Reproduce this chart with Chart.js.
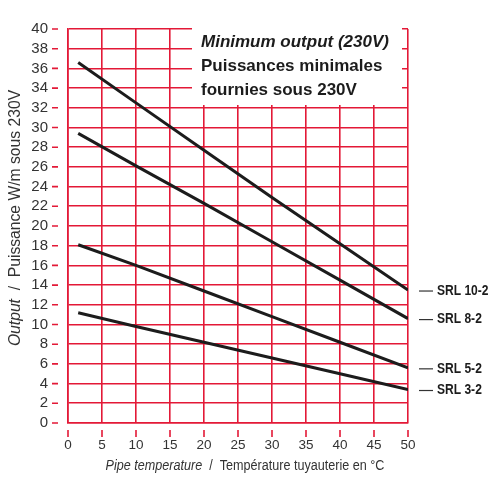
<!DOCTYPE html>
<html>
<head>
<meta charset="utf-8">
<script src="https://cdn.jsdelivr.net/npm/chart.js@4.4.1/dist/chart.umd.min.js"></script>
<style>
  html, body { margin: 0; padding: 0; background: #fff; }
  canvas { display: block; }
</style>
</head>
<body>
<canvas id="chart" width="488" height="477"></canvas>
<script>
// pipe temperature (°C) and minimum output (W/m)
const temps = [1.5, 10, 20, 30, 40, 50];
const srl10 = [36.6, 32.5, 27.7, 22.9, 18.2, 13.5];
const srl8  = [29.4, 26.1, 22.3, 18.4, 14.5, 10.6];
const srl5  = [18.1, 16.0, 13.4, 10.8, 8.2, 5.6];
const srl3  = [11.2, 9.8, 8.2, 6.6, 5.0, 3.4];
const seriesNames = ['SRL 10-2', 'SRL 8-2', 'SRL 5-2', 'SRL 3-2'];

const boxLines = ['Minimum output (230V)', 'Puissances minimales', 'fournies sous 230V'];
const xTitle = ['Pipe temperature', '  /  ', 'Température tuyauterie en °C'];
const yTitle = ['Output', '  /  ', 'Puissance W/m sous 230V'];

const RED = '#e31937';
const INK = '#1c1c1c';
const GREY = '#333';
const SANS = '"Liberation Sans", Arial, sans-serif';

function pts(vals){
  return vals.map((v, i) => ({ x: temps[i], y: v }));
}

// draws a run of text parts centred on (cx, y), squeezed horizontally by sx
function drawParts(ctx, parts, fonts, cx, y, sx){
  const widths = parts.map((p, i) => { ctx.font = fonts[i]; return ctx.measureText(p).width; });
  const total = widths.reduce((a, b) => a + b, 0);
  ctx.save();
  ctx.translate(cx, y);
  ctx.scale(sx, 1);
  let x = -total / 2;
  parts.forEach((p, i) => { ctx.font = fonts[i]; ctx.fillText(p, x, 0); x += widths[i]; });
  ctx.restore();
}

const decor = {
  id: 'decor',
  beforeDatasetsDraw(chart){
    const ctx = chart.ctx;
    ctx.save();
    // white panel over the grid for the heading
    ctx.fillStyle = '#fff';
    ctx.fillRect(192, 24, 210, 81);
    ctx.fillStyle = INK;
    ctx.textBaseline = 'alphabetic';
    ctx.font = 'italic bold 17px ' + SANS;
    ctx.fillText(boxLines[0], 201, 47);
    ctx.font = 'bold 17px ' + SANS;
    ctx.fillText(boxLines[1], 201, 71);
    ctx.fillText(boxLines[2], 201, 95);
    ctx.restore();
  },
  afterDraw(chart){
    const ctx = chart.ctx;
    const xs = chart.scales.x, ys = chart.scales.y;
    ctx.save();
    // detached tick marks
    ctx.strokeStyle = RED;
    ctx.lineWidth = 1.6;
    ctx.beginPath();
    ys.ticks.forEach(t => {
      const y = ys.getPixelForValue(t.value);
      ctx.moveTo(52, y); ctx.lineTo(58, y);
    });
    xs.ticks.forEach(t => {
      const x = xs.getPixelForValue(t.value);
      ctx.moveTo(x, 430); ctx.lineTo(x, 437);
    });
    ctx.stroke();

    // axis titles
    ctx.fillStyle = GREY;
    ctx.textBaseline = 'alphabetic';
    drawParts(ctx, xTitle, ['italic 14px ' + SANS, '14px ' + SANS, '14px ' + SANS], 245, 470, 0.9);
    ctx.save();
    ctx.translate(20, 218);
    ctx.rotate(-Math.PI / 2);
    drawParts(ctx, yTitle, ['italic 16px ' + SANS, '16px ' + SANS, '16px ' + SANS], 0, 0, 0.98);
    ctx.restore();

    // series labels at the right end
    ctx.textBaseline = 'middle';
    chart.data.datasets.forEach(ds => {
      const last = ds.data[ds.data.length - 1];
      const y = ys.getPixelForValue(last.y) + 1;
      ctx.strokeStyle = GREY;
      ctx.lineWidth = 1.2;
      ctx.beginPath(); ctx.moveTo(419, y); ctx.lineTo(433, y); ctx.stroke();
      ctx.save();
      ctx.translate(437, y);
      ctx.scale(0.86, 1);
      ctx.fillStyle = INK;
      ctx.font = 'bold 14px ' + SANS;
      ctx.fillText(ds.label, 0, 0);
      ctx.restore();
    });
    ctx.restore();
  }
};

new Chart(document.getElementById('chart'), {
  type: 'line',
  data: {
    datasets: [srl10, srl8, srl5, srl3].map((vals, i) => ({
      label: seriesNames[i],
      data: pts(vals),
      borderColor: INK,
      borderWidth: 3,
      pointRadius: 0,
      tension: 0,
      fill: false
    }))
  },
  options: {
    responsive: false,
    animation: false,
    devicePixelRatio: 1,
    layout: { padding: { top: 15, right: 80, left: 0, bottom: 0 } },
    plugins: { legend: { display: false }, tooltip: { enabled: false } },
    scales: {
      x: {
        type: 'linear', min: 0, max: 50,
        afterFit: s => { s.height = 54; },
        ticks: { stepSize: 5, autoSkip: false, padding: 14, color: GREY, font: { family: SANS, size: 13.5 }, maxRotation: 0 },
        grid: { color: RED, lineWidth: 1.6, drawTicks: false },
        border: { color: RED, width: 1.6 }
      },
      y: {
        type: 'linear', min: 0, max: 40,
        afterFit: s => { s.width = 68; },
        ticks: { stepSize: 2, autoSkip: false, padding: 20, color: GREY, font: { family: SANS, size: 15 } },
        grid: { color: RED, lineWidth: 1.6, drawTicks: false },
        border: { color: RED, width: 1.6 }
      }
    }
  },
  plugins: [decor]
});
</script>
</body>
</html>
